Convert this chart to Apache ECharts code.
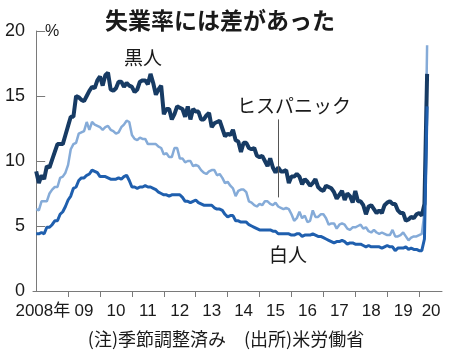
<!DOCTYPE html>
<html>
<head>
<meta charset="utf-8">
<script src="https://cdn.jsdelivr.net/npm/echarts@6/dist/echarts.min.js"></script>
<style>
html,body{margin:0;padding:0;background:#fff;}
#c{width:450px;height:356px;}
</style>
</head>
<body>
<div id="c"></div>
<script>
// Monthly unemployment rate (%), Jan 2008 – Apr 2020, seasonally adjusted
var startYear = 2008;
var yearLabels = ['2008年','09','10','11','12','13','14','15','16','17','18','19','20'];
var yTicks = [0, 5, 10, 15, 20];

var black = [
  9.2,8.3,8.9,8.6,9.6,9.5,10.1,10.7,11.3,11.3,11.3,12.0,
  12.7,13.4,13.4,15.0,14.9,14.7,14.6,15.0,15.4,15.7,15.6,16.2,
  16.5,15.8,16.6,16.8,15.5,15.4,15.6,16.1,16.1,15.7,16.0,15.8,
  15.7,15.3,15.5,16.1,16.2,16.2,15.9,16.7,16.0,15.1,15.5,15.8,
  13.6,14.0,14.0,13.2,13.6,14.2,14.1,14.0,13.4,14.2,13.2,14.0,
  13.8,13.8,13.2,13.2,13.5,13.7,12.6,12.9,13.0,13.1,12.5,11.9,
  12.1,12.0,12.4,11.6,11.5,10.7,11.4,11.4,11.0,10.9,11.0,10.4,
  10.3,10.4,10.0,9.6,10.2,9.5,9.1,9.5,9.2,9.2,9.3,8.3,
  8.8,8.8,9.0,8.8,8.2,8.6,8.4,8.1,8.3,8.6,8.0,7.8,
  7.7,8.1,8.0,7.9,7.6,7.1,7.4,7.7,7.0,7.5,7.3,6.8,
  7.7,6.9,6.9,6.6,5.9,6.5,6.6,6.3,6.0,6.2,6.0,6.6,
  6.8,6.9,6.7,6.7,6.2,6.0,6.0,5.4,5.5,5.7,5.6,5.9,
  6.0,5.8,6.7,16.7
];
var hispanic = [
  6.3,6.2,6.9,6.9,6.9,7.5,7.8,8.0,8.0,8.7,8.8,9.1,
  9.7,10.9,11.3,11.4,12.1,12.2,12.3,13.0,12.4,13.0,12.8,12.7,
  12.6,12.4,12.6,12.7,12.4,12.3,12.1,12.2,12.6,12.8,13.1,13.0,
  12.0,11.7,11.6,11.8,11.7,11.7,11.3,11.3,11.3,11.3,11.1,11.0,
  10.5,10.6,10.3,10.3,11.0,11.0,10.2,10.2,9.9,10.0,10.0,9.6,
  9.7,9.6,9.3,9.1,9.0,9.2,9.3,9.3,8.9,9.0,8.7,8.3,
  8.4,8.1,7.9,7.3,7.7,7.8,7.8,7.6,6.9,6.8,6.6,6.5,
  6.7,6.6,6.9,6.9,6.7,6.6,6.8,6.5,6.4,6.3,6.4,6.3,
  5.9,5.4,5.6,6.1,5.6,5.8,5.3,5.4,6.2,5.7,5.7,5.9,
  5.9,5.6,5.1,5.2,5.2,4.8,5.1,5.2,5.1,4.8,4.7,4.9,
  4.9,5.0,5.1,4.8,4.9,4.6,4.5,4.7,4.5,4.4,4.5,4.4,
  4.3,4.3,4.7,4.2,4.2,4.3,4.5,4.2,3.9,4.1,4.2,4.2,
  4.3,4.4,6.0,18.9
];
var white = [
  4.4,4.4,4.5,4.4,4.9,4.9,5.1,5.4,5.4,5.9,6.1,6.5,
  7.0,7.3,7.9,8.0,8.5,8.7,8.7,8.9,9.0,9.3,9.2,9.1,
  8.8,8.8,8.8,8.7,8.6,8.6,8.6,8.7,8.6,8.8,8.9,8.5,
  8.0,8.0,7.9,8.0,8.0,8.1,8.0,8.0,7.9,7.8,7.6,7.5,
  7.4,7.4,7.3,7.4,7.4,7.4,7.4,7.2,6.9,6.9,6.8,6.9,
  7.0,6.8,6.7,6.6,6.6,6.6,6.6,6.4,6.3,6.3,6.2,5.9,
  5.7,5.8,5.8,5.4,5.4,5.3,5.3,5.3,5.1,5.0,4.9,4.8,
  4.7,4.7,4.7,4.7,4.7,4.6,4.6,4.4,4.4,4.4,4.4,4.4,
  4.3,4.3,4.4,4.4,4.2,4.3,4.3,4.3,4.4,4.3,4.2,4.2,
  4.1,4.0,3.9,3.8,3.7,3.8,3.8,3.9,3.8,3.6,3.7,3.7,
  3.6,3.6,3.6,3.5,3.4,3.5,3.4,3.4,3.4,3.4,3.3,3.4,
  3.5,3.4,3.4,3.1,3.3,3.3,3.3,3.4,3.2,3.3,3.2,3.2,
  3.1,3.1,4.0,14.2
];

function toPairs(arr){ return arr.map(function(v,i){ return [i, v]; }); }

var NUM_FONT = '"Liberation Sans","Noto Sans CJK JP",sans-serif';
var JP_FONT = '"Noto Sans CJK JP","Noto Sans",sans-serif';

// tick at each January, label at mid-year
var tickVals = [];
for (var y = 1; y < yearLabels.length; y++) tickVals.push(y * 12);
var labelVals = yearLabels.map(function(l, i){
  if (i === 0) return 2.5;
  if (i === yearLabels.length - 1) return i * 12 + 4.5;
  return i * 12 + 6;
});

var chart = echarts.init(document.getElementById('c'), null, {renderer:'canvas'});
chart.setOption({
  animation: false,
  backgroundColor: '#fff',
  grid: {left: 33, right: 8, top: 31, bottom: 65, containLabel: false},
  xAxis: {
    type: 'value', min: -1.2, max: 152.6,
    splitLine: {show: false},
    axisLine: {lineStyle: {color: '#7a7a7a', width: 1}},
    axisTick: {show: true, length: 6, customValues: tickVals, lineStyle: {color: '#7a7a7a'}},
    axisLabel: {
      customValues: labelVals, margin: 12,
      color: '#1a1a1a', fontSize: 17, fontFamily: NUM_FONT,
      formatter: function(v){
        var i = labelVals.indexOf(v);
        return i >= 0 ? yearLabels[i] : '';
      }
    }
  },
  yAxis: {
    type: 'value', min: 0, max: 20, interval: 5,
    splitLine: {show: false},
    axisLine: {show: true, lineStyle: {color: '#7a7a7a', width: 1}},
    axisTick: {show: true, inside: true, length: 9, lineStyle: {color: '#7a7a7a'}},
    axisLabel: {margin: 8, color: '#1a1a1a', fontSize: 18, fontFamily: NUM_FONT}
  },
  series: [
    {name: 'ヒスパニック', type: 'line', data: toPairs(hispanic), showSymbol: false, symbol: 'none',
     lineStyle: {color: '#85abd8', width: 2.5}, z: 2,
     markLine: {silent: true, symbol: 'none', label: {show: false},
       lineStyle: {color: '#555', width: 1, type: 'solid'},
       data: [[{coord: [91, 13.2]}, {coord: [91, 7.2]}]]}},
    {name: '黒人', type: 'line', data: toPairs(black), showSymbol: false, symbol: 'none',
     lineStyle: {color: '#173b64', width: 4}, z: 3},
    {name: '白人', type: 'line', data: toPairs(white), showSymbol: false, symbol: 'none',
     lineStyle: {color: '#1f5fae', width: 3}, z: 4}
  ],
  graphic: [
    {type: 'text', x: 220, y: 20, style: {text: '失業率には差があった', font: 'bold 23px ' + JP_FONT, fill: '#1a1a1a', align: 'center', verticalAlign: 'middle'}},
    {type: 'text', x: 45, y: 24, style: {text: '%', font: '16px ' + NUM_FONT, fill: '#1a1a1a'}},
    {type: 'text', x: 143, y: 58, style: {text: '黒人', font: '19px ' + JP_FONT, fill: '#1a1a1a', align: 'center', verticalAlign: 'middle'}},
    {type: 'text', x: 294, y: 106, style: {text: 'ヒスパニック', font: '19px ' + JP_FONT, fill: '#1a1a1a', align: 'center', verticalAlign: 'middle'}},
    {type: 'text', x: 288, y: 255, style: {text: '白人', font: '19px ' + JP_FONT, fill: '#1a1a1a', align: 'center', verticalAlign: 'middle'}},
    {type: 'text', x: 226, y: 339, style: {text: '(注)季節調整済み　(出所)米労働省', font: '18px ' + JP_FONT, fill: '#1a1a1a', align: 'center', verticalAlign: 'middle'}}
  ]
});
</script>
</body>
</html>
